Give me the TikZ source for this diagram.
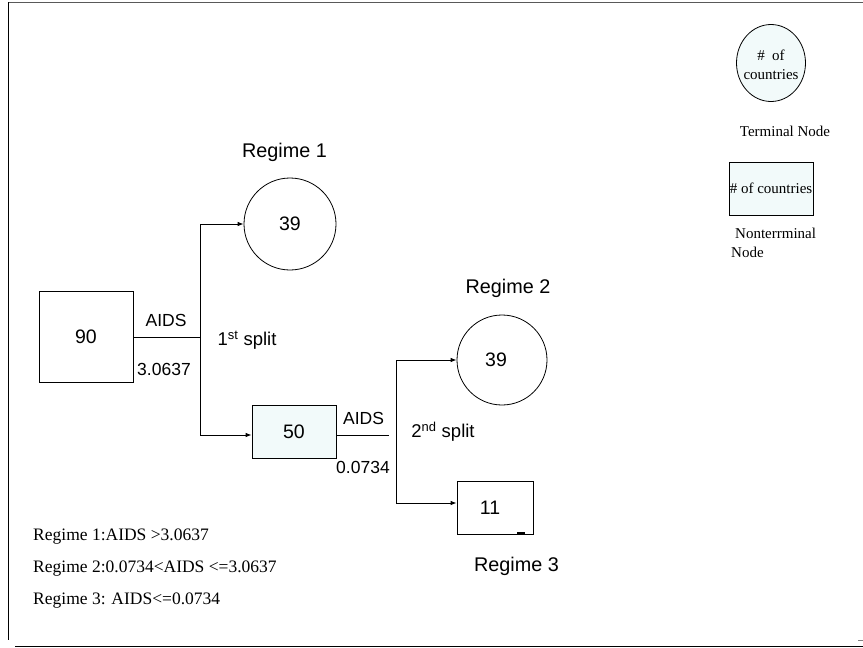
\documentclass[tikz,border=0pt]{standalone}
\usepackage{fontspec}
\setmainfont{Liberation Serif}
\newfontfamily\arialfont{Liberation Sans}
\usetikzlibrary{arrows.meta, calc, positioning, shapes.geometric}
\definecolor{paleblue}{HTML}{F2FAFA}

\begin{document}
\begin{tikzpicture}[% styles used in image code
         x = 1pt, y = -1pt, % pixel units, y runs down
         > = {Latex[length=6pt,width=4.5pt]}, % defined in "arrows.meta"
term/.style = {circle, draw, line width=0.8pt, inner sep=0pt,
               font=\arialfont\fontsize{19.5}{22}\selectfont},
nonterm/.style = {draw, line width=0.8pt, inner sep=0pt,
                  font=\arialfont\fontsize{19.5}{22}\selectfont},
edge/.style = {line width=0.8pt},
lbl/.style = {inner sep=0pt, font=\arialfont\fontsize{17.5}{20}\selectfont},
regime/.style = {inner sep=0pt, font=\arialfont\fontsize{19.8}{22}\selectfont},
splitlbl/.style = {inner sep=0pt, font=\arialfont\fontsize{18.5}{21}\selectfont},
note/.style = {inner sep=0pt, font=\fontsize{15}{18.5}\selectfont},
rule/.style = {inner sep=0pt, align=left, font=\fontsize{17.5}{32}\selectfont}
                        ]
	\useasboundingbox (0,0) rectangle (863,648);
	% frame
	\draw[gray!70!black, line width=1.5pt] (8,2.5) -- (863,2.5);
	\draw[line width=1.5pt] (8.5,2) -- (8.5,640);
	\draw[line width=1.5pt] (15,646.5) -- (863,646.5);
	\draw[gray, line width=1.2pt] (858,640.5) -- (863,640.5);

	% tree nodes
	\node[nonterm, minimum width=94pt, minimum height=91pt] (n90) at (86,336.5) {90};
	\node[term, minimum size=92pt] (r1) at (290,224) {39};
	\node[nonterm, fill=paleblue, minimum width=84pt, minimum height=53pt] (n50) at (294,431.5) {50};
	\node[term, minimum size=90pt] (r2) at (502,360) {\hspace*{-12pt}39};
	\node[nonterm, minimum width=76pt, minimum height=53pt] (r3) at (495,507.5) {\hspace*{-10pt}11};
	\draw[line width=2pt] ([xshift=-16pt,yshift=1pt]r3.south east) -- ++(8,0);

	% 1st split
	\coordinate (s1) at (200,337);
	\draw[edge] (n90.east |- s1) -- (s1);
	\draw[edge,->] (s1) |- (r1.west);
	\draw[edge,->] (s1) |- ([yshift=-3.5pt]n50.west);
	\node[lbl] (a1) at (166,320) {AIDS};
	\node[lbl] (v1) at (164,369) {3.0637};
	\node[splitlbl] (sp1) at (247,340) {1\textsuperscript{st} split};

	% 2nd split
	\coordinate (s2) at (396,435);
	\draw[edge, shorten >=7pt] ([yshift=-3.5pt]n50.east) -- (s2);
	\draw[edge,->] (s2) |- (r2.west);
	\draw[edge,->] (s2) |- ([yshift=4.5pt]r3.west);
	\node[lbl] (a2) at (363.5,418) {AIDS};
	\node[lbl] (v2) at (363,467) {0.0734};
	\node[splitlbl] (sp2) at (443,432) {2\textsuperscript{nd} split};

	% regime names
	\node[regime] (g1) at (284.5,152) {Regime 1};
	\node[regime] (g2) at (508,288) {Regime 2};
	\node[regime] (g3) at (516.5,566) {Regime 3};

	% legend
	\node[ellipse, draw, line width=0.8pt, fill=paleblue, inner sep=0pt,
	      minimum width=69pt, minimum height=77pt] (kterm) at (771,63) {};
	\node[note, align=center] at ([yshift=-2pt]kterm) {\#\ \ of\\countries};
	\node[note] (tterm) at (785,131) {Terminal Node};
	\node[draw, line width=0.8pt, fill=paleblue, note,
	      minimum width=84pt, minimum height=53pt] (knon) at (771,188.5) {\# of countries};
	\node[note, align=left, anchor=north west] (tnon) at (731,228) {\hspace*{4pt}Nonterrminal\\Node};

	% regime rules
	\node[rule, anchor=north west] (rules) at (33,529) {Regime 1:AIDS >3.0637\\
	  Regime 2:0.0734<AIDS <=3.0637\\
	  Regime 3: AIDS<=0.0734};
\end{tikzpicture}
\end{document}
